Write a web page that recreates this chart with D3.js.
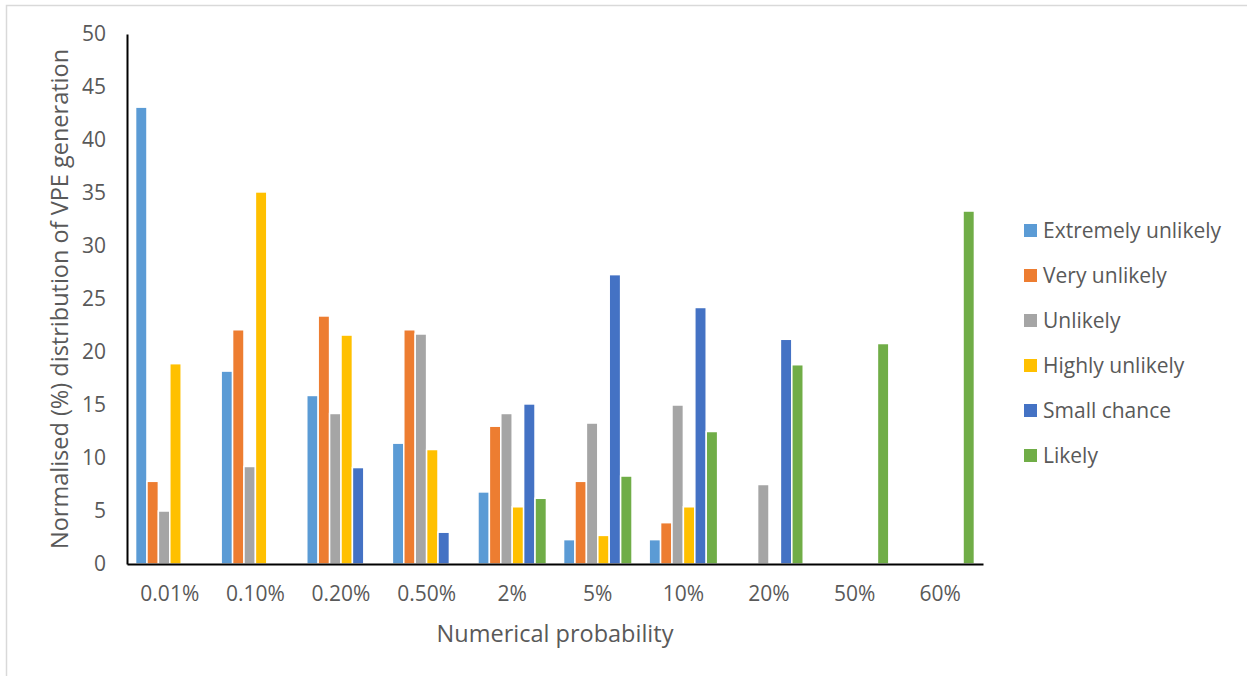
<!DOCTYPE html>
<html>
<head>
<meta charset="utf-8">
<script src="https://cdn.jsdelivr.net/npm/d3@7"></script>
<style>
  body { margin: 0; background: #fff; }
  svg text { font-family: "Open Sans", sans-serif; fill: #595959; }
</style>
</head>
<body>
<div id="chart"></div>
<script>
const categories = ['0.01%', '0.10%', '0.20%', '0.50%', '2%', '5%', '10%', '20%', '50%', '60%'];
const seriesNames = ['Extremely unlikely', 'Very unlikely', 'Unlikely', 'Highly unlikely', 'Small chance', 'Likely'];
const seriesColors = ['#5b9bd5', '#ed7d31', '#a5a5a5', '#ffc000', '#4472c4', '#70ad47'];

const extremelyUnlikely = [43.1, 18.2, 15.9, 11.4, 6.8, 2.3, 2.3, 0, 0, 0];
const veryUnlikely = [7.8, 22.1, 23.4, 22.1, 13.0, 7.8, 3.9, 0, 0, 0];
const unlikely = [5.0, 9.2, 14.2, 21.7, 14.2, 13.3, 15.0, 7.5, 0, 0];
const highlyUnlikely = [18.9, 35.1, 21.6, 10.8, 5.4, 2.7, 5.4, 0, 0, 0];
const smallChance = [0, 0, 9.1, 3.0, 15.1, 27.3, 24.2, 21.2, 0, 0];
const likely = [0, 0, 0, 0, 6.2, 8.3, 12.5, 18.8, 20.8, 33.3];

const yTicks = [0, 5, 10, 15, 20, 25, 30, 35, 40, 45, 50];

const allSeries = [extremelyUnlikely, veryUnlikely, unlikely, highlyUnlikely, smallChance, likely];

const width = 1247, height = 676;
const margin = { top: 34, left: 127, right: 264, bottom: 112 };

const svg = d3.select('#chart').append('svg')
  .attr('width', width)
  .attr('height', height);

// outer chart border
svg.append('rect')
  .attr('x', 6.5).attr('y', 5.5)
  .attr('width', width - 5).attr('height', height - 4)
  .attr('fill', 'none')
  .attr('stroke', '#d9d9d9')
  .attr('stroke-width', 1.5);

const x0 = d3.scaleBand()
  .domain(categories)
  .range([margin.left, width - margin.right])
  .paddingInner(0.2)
  .paddingOuter(0.1);

const x1 = d3.scaleBand()
  .domain(d3.range(seriesNames.length))
  .range([0, x0.bandwidth()]);

const y = d3.scaleLinear()
  .domain([0, 50])
  .range([height - margin.bottom, margin.top]);

// bars
const rows = [];
categories.forEach((c, i) => {
  allSeries.forEach((s, j) => {
    if (s[i] > 0) rows.push({ cat: c, series: j, value: s[i] });
  });
});

svg.append('g')
  .selectAll('rect')
  .data(rows)
  .join('rect')
  .attr('x', d => x0(d.cat) + x1(d.series))
  .attr('y', d => y(d.value))
  .attr('width', x1.bandwidth())
  .attr('height', d => y(0) - y(d.value))
  .attr('fill', d => seriesColors[d.series])
  .attr('stroke', '#fff')
  .attr('stroke-width', 1.5);

// y axis
const yAxis = svg.append('g')
  .attr('transform', `translate(${margin.left},0)`)
  .call(d3.axisLeft(y).tickValues(yTicks).tickSize(0).tickPadding(21));
yAxis.select('.domain').attr('stroke', '#000').attr('stroke-width', 2);
yAxis.selectAll('text')
  .style('font-size', '21px')
  .style('font-family', '"Open Sans", sans-serif')
  .attr('fill', '#595959');

// x axis
const xAxis = svg.append('g')
  .attr('transform', `translate(0,${y(0)})`)
  .call(d3.axisBottom(x0).tickSize(0).tickPadding(22));
xAxis.select('.domain').attr('stroke', '#000').attr('stroke-width', 2);
xAxis.selectAll('text')
  .style('font-size', '21px')
  .style('font-family', '"Open Sans", sans-serif')
  .attr('fill', '#595959');

// axis titles
svg.append('text')
  .attr('x', 555)
  .attr('y', 642)
  .attr('text-anchor', 'middle')
  .style('font-size', '23.5px')
  .text('Numerical probability');

svg.append('text')
  .attr('transform', 'translate(68,299) rotate(-90)')
  .attr('text-anchor', 'middle')
  .style('font-size', '23.5px')
  .text('Normalised (%) distribution of VPE generation');

// legend
const legend = svg.append('g')
  .selectAll('g')
  .data(seriesNames)
  .join('g')
  .attr('transform', (d, i) => `translate(1024,${231 + i * 45})`);

legend.append('rect')
  .attr('x', 0).attr('y', -7)
  .attr('width', 13).attr('height', 13)
  .attr('fill', (d, i) => seriesColors[i]);

legend.append('text')
  .attr('x', 19)
  .attr('dy', '0.35em')
  .style('font-size', '21px')
  .text(d => d);
</script>
</body>
</html>
